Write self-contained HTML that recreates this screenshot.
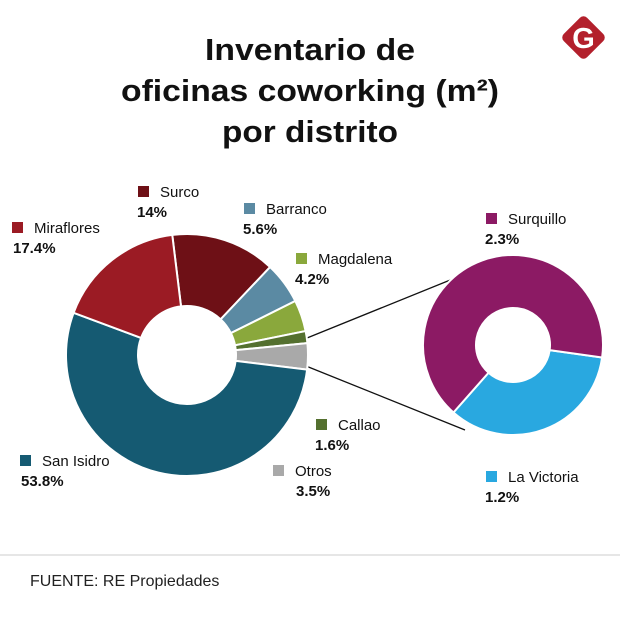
<!DOCTYPE html>
<html><head><meta charset="utf-8"><style>
body{margin:0;background:#fff;width:620px;height:624px;overflow:hidden;font-family:"Liberation Sans",sans-serif;}
</style></head><body>
<svg width="620" height="624" viewBox="0 0 620 624">
<g font-family="Liberation Sans, sans-serif" font-weight="bold" font-size="31" text-anchor="middle" fill="#111">
<text x="310" y="60" textLength="210" lengthAdjust="spacingAndGlyphs">Inventario de</text>
<text x="310" y="101" textLength="378" lengthAdjust="spacingAndGlyphs">oficinas coworking (m²)</text>
<text x="310" y="142" textLength="176" lengthAdjust="spacingAndGlyphs">por distrito</text>
</g>
<g>
<rect x="567" y="21" width="33" height="33" rx="5" fill="#b3202c" transform="rotate(45 583.5 37.5)"/>
<text x="583.5" y="48" font-size="29" font-weight="bold" fill="#fff" text-anchor="middle">G</text>
</g>
<line x1="307" y1="338" x2="470" y2="272" stroke="#111" stroke-width="1.3"/>
<line x1="306" y1="366" x2="465" y2="430" stroke="#111" stroke-width="1.3"/>
<g id="main"></g>
<g id="sub"></g>
<g id="labels" font-size="15" fill="#111"></g>
<line x1="0" y1="555" x2="620" y2="555" stroke="#ccc" stroke-width="1"/>
<text x="30" y="586" font-size="16" fill="#222">FUENTE: RE Propiedades</text>
</svg>
<script>
const mainNames=["Surco","Barranco","Magdalena","Callao","Otros","San Isidro","Miraflores"];
const mainValues=[14,5.6,4.2,1.6,3.5,53.8,17.4];
const mainColors=["#6e1016","#5b8aa3","#8aa83c","#54702f","#a9a9a9","#155a72","#9b1b24"];
const subNames=["La Victoria","Surquillo"];
const subValues=[1.2,2.3];
const subColors=["#29a8e0","#8c1a64"];
const NS="http://www.w3.org/2000/svg";
function arc(cx,cy,r0,r1,a0,a1){
 const p=(r,a)=>[cx+r*Math.sin(a*Math.PI/180),cy-r*Math.cos(a*Math.PI/180)];
 const l=a1-a0>180?1:0;
 const [x0,y0]=p(r1,a0),[x1,y1]=p(r1,a1),[x2,y2]=p(r0,a1),[x3,y3]=p(r0,a0);
 return `M${x0},${y0}A${r1},${r1} 0 ${l} 1 ${x1},${y1}L${x2},${y2}A${r0},${r0} 0 ${l} 0 ${x3},${y3}Z`;
}
function donut(g,names,vals,cols,cx,cy,r0,r1,start,prefix){
 const tot=vals.reduce((a,b)=>a+b,0);let a=start;
 vals.forEach((v,i)=>{const s=v/tot*360;const p=document.createElementNS(NS,"path");
  p.setAttribute("d",arc(cx,cy,r0,r1,a,a+s));p.setAttribute("fill",cols[i]);
  p.setAttribute("stroke","#fff");p.setAttribute("stroke-width","2");
  
  
  g.appendChild(p);a+=s;});
}
donut(document.getElementById("main"),mainNames,mainValues,mainColors,187,355,49,121,-7,'main');
donut(document.getElementById("sub"),subNames,subValues,subColors,513,345,37,90,98,'sub');
const labelPos={"Surco":[138,192],"Barranco":[244,209],"Magdalena":[296,259],"Miraflores":[12,228],"San Isidro":[20,461],"Callao":[316,425],"Otros":[273,471],"Surquillo":[486,219],"La Victoria":[486,477]};
const lg=document.getElementById("labels");
const allN=mainNames.concat(subNames),allV=mainValues.concat(subValues),allC=mainColors.concat(subColors);
allN.forEach((n,i)=>{const [x,y]=labelPos[n];const g=document.createElementNS(NS,"g");
 
 
 g.innerHTML=`<rect x="${x}" y="${y-6}" width="11" height="11" fill="${allC[i]}"/><text x="${x+22}" y="${y+5}">${n}</text><text x="${n==='San Isidro'||n==='Miraflores'?x+1:(n==='Otros'?x+23:x-1)}" y="${y+25}" font-weight="bold">${allV[i]}%</text>`;
 lg.appendChild(g);});
</script>
</body></html>
